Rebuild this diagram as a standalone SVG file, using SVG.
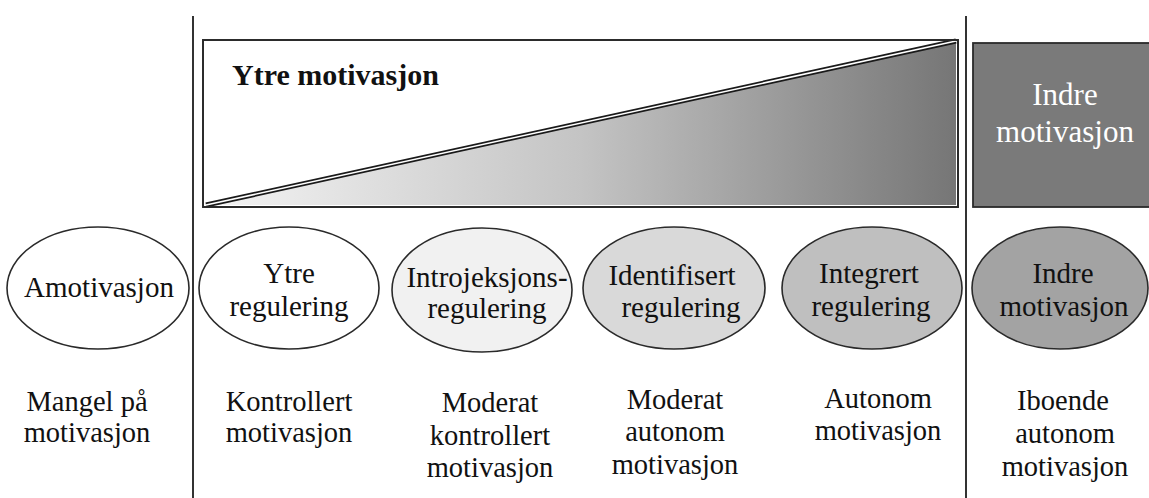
<svg xmlns="http://www.w3.org/2000/svg" width="1149" height="498" viewBox="0 0 1149 498">
  <defs>
    <linearGradient id="rampFill" x1="0" y1="0" x2="1" y2="0">
      <stop offset="0" stop-color="#f4f4f4"/>
      <stop offset="0.5" stop-color="#c4c4c4"/>
      <stop offset="1" stop-color="#767676"/>
    </linearGradient>
    <style>
      text { font-family: 'Times New Roman', serif; fill: #111; text-anchor: middle; }
      .lbl { font-size: 29px; }
      .low { font-size: 28.5px; }
      .head { font-size: 30px; font-weight: bold; text-anchor: start; }
      .inv { font-size: 31px; fill: #ffffff; }
      .ell { stroke: #2a2a2a; stroke-width: 1.6; }
      .divider { stroke: #333333; stroke-width: 2; fill: none; }
      .box { stroke: #2a2a2a; stroke-width: 1.8; }
    </style>
  </defs>

  <rect width="1149" height="498" fill="#ffffff"/>

  <!-- column dividers -->
  <g id="dividers">
    <line class="divider" x1="193" y1="16" x2="193" y2="498"/>
    <line class="divider" x1="966" y1="16" x2="966" y2="498"/>
  </g>

  <!-- extrinsic motivation band with rising ramp -->
  <g id="ytre-motivasjon">
    <rect class="box" x="203" y="40" width="755" height="167" fill="#ffffff"/>
    <polygon points="206,205 956,42 956,205" fill="url(#rampFill)"/>
    <line x1="206" y1="205" x2="956" y2="41" stroke="#1a1a1a" stroke-width="5"/>
    <line x1="206" y1="205" x2="956" y2="41" stroke="#ffffff" stroke-width="1.6"/>
    <rect x="203" y="40" width="755" height="167" fill="none" stroke="#2a2a2a" stroke-width="1.8"/>
    <text class="head" x="232" y="85">Ytre motivasjon</text>
  </g>

  <!-- intrinsic motivation block -->
  <g id="indre-motivasjon-boks">
    <rect class="box" x="973" y="43" width="190" height="164" fill="#7a7a7a"/>
    <text class="inv" x="1065" y="105">Indre</text>
    <text class="inv" x="1065" y="142">motivasjon</text>
  </g>

  <!-- regulation types -->
  <g id="amotivasjon">
    <ellipse class="ell" cx="98" cy="288" rx="91" ry="61" fill="#ffffff"/>
    <text class="lbl" x="99" y="297">Amotivasjon</text>
  </g>
  <g id="ytre-regulering">
    <ellipse class="ell" cx="289" cy="288" rx="90" ry="61" fill="#ffffff"/>
    <text class="lbl" x="289" y="283">Ytre</text>
    <text class="lbl" x="289" y="316">regulering</text>
  </g>
  <g id="introjeksjonsregulering">
    <ellipse class="ell" cx="482" cy="290" rx="90" ry="62" fill="#f1f1f1"/>
    <text class="lbl" x="487" y="287">Introjeksjons-</text>
    <text class="lbl" x="487" y="318">regulering</text>
  </g>
  <g id="identifisert-regulering">
    <ellipse class="ell" cx="674" cy="288" rx="91" ry="61" fill="#d9d9d9"/>
    <text class="lbl" x="672" y="285">Identifisert</text>
    <text class="lbl" x="681" y="317">regulering</text>
  </g>
  <g id="integrert-regulering">
    <ellipse class="ell" cx="872" cy="288" rx="90" ry="61" fill="#bfbfbf"/>
    <text class="lbl" x="869" y="283">Integrert</text>
    <text class="lbl" x="871" y="316">regulering</text>
  </g>
  <g id="indre-motivasjon">
    <ellipse class="ell" cx="1060" cy="288" rx="88" ry="61" fill="#a3a3a3"/>
    <text class="lbl" x="1063" y="283">Indre</text>
    <text class="lbl" x="1064" y="316">motivasjon</text>
  </g>

  <!-- degree of autonomy -->
  <g id="mangel">
    <text class="low" x="87" y="411">Mangel på</text>
    <text class="low" x="87" y="442">motivasjon</text>
  </g>
  <g id="kontrollert">
    <text class="low" x="289" y="411">Kontrollert</text>
    <text class="low" x="289" y="442">motivasjon</text>
  </g>
  <g id="moderat-kontrollert">
    <text class="low" x="490" y="412">Moderat</text>
    <text class="low" x="490" y="445">kontrollert</text>
    <text class="low" x="490" y="477">motivasjon</text>
  </g>
  <g id="moderat-autonom">
    <text class="low" x="675" y="409">Moderat</text>
    <text class="low" x="675" y="441">autonom</text>
    <text class="low" x="675" y="474">motivasjon</text>
  </g>
  <g id="autonom">
    <text class="low" x="878" y="408">Autonom</text>
    <text class="low" x="878" y="440">motivasjon</text>
  </g>
  <g id="iboende">
    <text class="low" x="1063" y="410">Iboende</text>
    <text class="low" x="1065" y="443">autonom</text>
    <text class="low" x="1065" y="476">motivasjon</text>
  </g>
</svg>
